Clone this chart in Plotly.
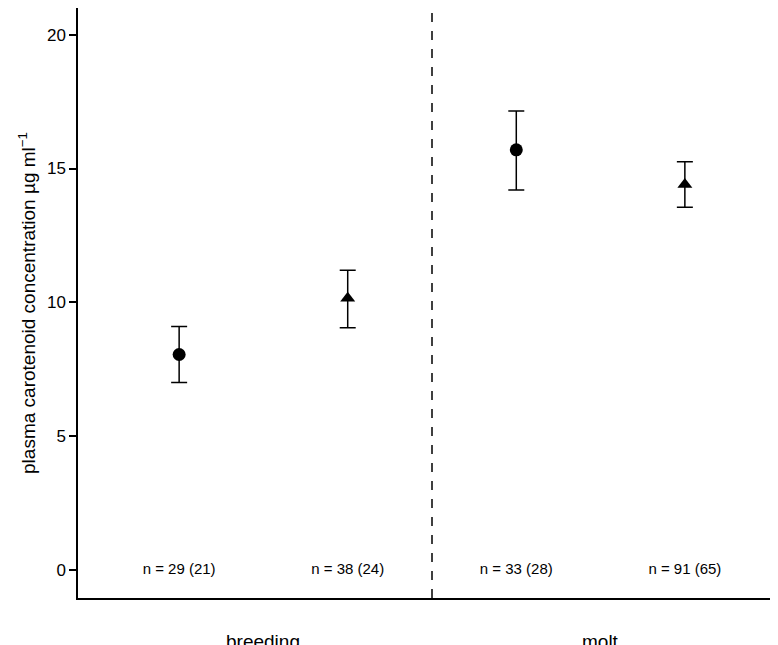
import plotly.graph_objects as go

x_pos = [1, 2, 3, 4]
means = [8.05, 10.15, 15.7, 14.4]
lower = [7.0, 9.05, 14.2, 13.55]
upper = [9.1, 11.2, 17.15, 15.25]
symbols = ["circle", "triangle-up", "circle", "triangle-up"]
n_labels = ["n = 29 (21)", "n = 38 (24)", "n = 33 (28)", "n = 91 (65)"]
seasons = ["breeding", "molt"]
season_pos = [1.5, 3.5]

fig = go.Figure()
fig.add_trace(go.Scatter(
    x=x_pos, y=means, mode="markers",
    marker=dict(symbol=symbols, size=13, color="black"),
    error_y=dict(type="data", symmetric=False,
                 array=[u - m for u, m in zip(upper, means)],
                 arrayminus=[m - l for m, l in zip(means, lower)],
                 color="black", thickness=1.5, width=8),
    showlegend=False))
fig.add_trace(go.Scatter(x=x_pos, y=[0]*4, mode="text", text=n_labels,
                         textfont=dict(size=15, color="black", family="Liberation Sans"),
                         showlegend=False))
fig.add_shape(type="line", x0=2.5, x1=2.5, y0=-1.05, y1=21, xref="x", yref="y",
              line=dict(color="black", width=1.5, dash="dash"))
for s, p in zip(seasons, season_pos):
    fig.add_annotation(x=p, y=-0.073, xref="x", yref="paper", text=s, showarrow=False,
                       yanchor="middle", font=dict(size=19, color="black", family="Liberation Sans"))

fig.update_layout(
    width=778, height=645, plot_bgcolor="white", paper_bgcolor="white",
    margin=dict(l=70, r=0, t=0, b=55, autoexpand=False),
    font=dict(family="Liberation Sans", color="black"),
    xaxis=dict(range=[0.4, 4.6], showticklabels=False, ticks="", showgrid=False,
               zeroline=False, showline=True, linecolor="black", linewidth=1.5,
               automargin=False),
    yaxis=dict(range=[-1.05, 21.0], tickvals=[0, 5, 10, 15, 20], ticks="outside",
               ticklen=7, tickwidth=1.5, tickcolor="black", showgrid=False, zeroline=False,
               showline=True, linecolor="black", linewidth=1.5, automargin=False,
               tickfont=dict(size=17),
               title=dict(text="plasma carotenoid concentration µg ml<sup>−1</sup>",
                          font=dict(size=19), standoff=6)),
)
fig.write_html("out.html")
